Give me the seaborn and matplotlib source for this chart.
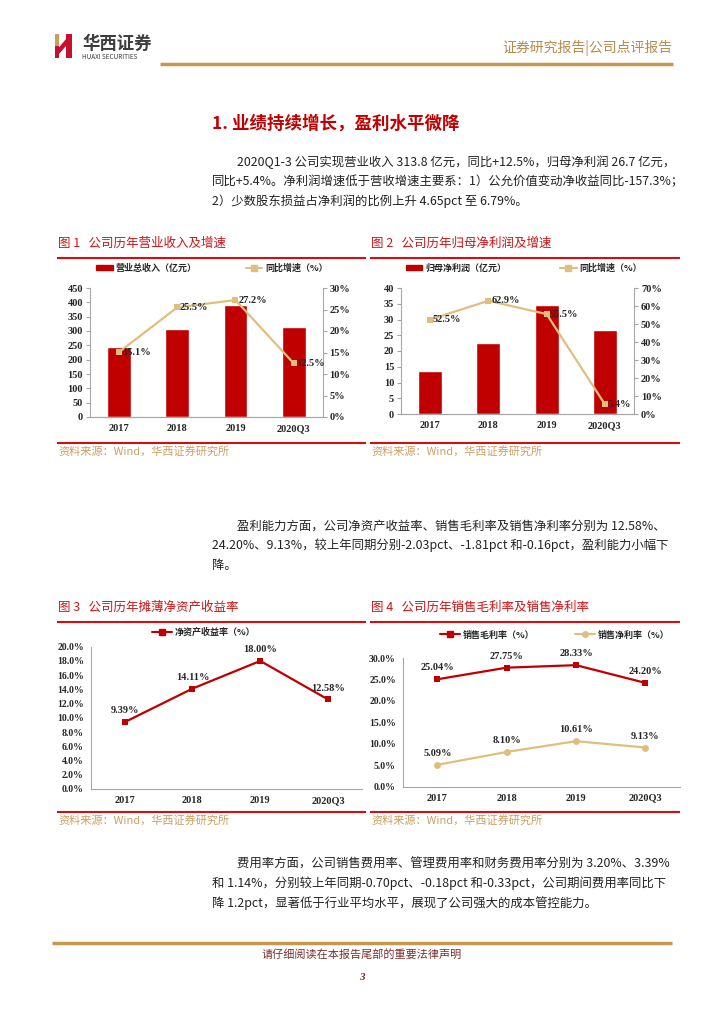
import numpy as np
import matplotlib
matplotlib.use("Agg")
import matplotlib.pyplot as plt
import seaborn as sns
from matplotlib.patches import Patch, Polygon, Rectangle
from matplotlib.lines import Line2D

# ---- data ----
years = ["2017", "2018", "2019", "2020Q3"]
revenue = [244.0, 307.0, 391.0, 313.8]          # 营业总收入（亿元）
revenue_yoy = [15.1, 25.5, 27.2, 12.5]          # 同比增速（%）
net_profit = [13.8, 22.4, 34.7, 26.7]           # 归母净利润（亿元）
net_profit_yoy = [52.5, 62.9, 55.5, 5.4]        # 同比增速（%）
roe = [9.39, 14.11, 18.00, 12.58]               # 净资产收益率（%）
gross_margin = [25.04, 27.75, 28.33, 24.20]     # 销售毛利率（%）
net_margin = [5.09, 8.10, 10.61, 9.13]          # 销售净利率（%）

para1 = ["2020Q1-3 公司实现营业收入 313.8 亿元，同比+12.5%，归母净利润 26.7 亿元，",
         "同比+5.4%。净利润增速低于营收增速主要系：1）公允价值变动净收益同比-157.3%；",
         "2）少数股东损益占净利润的比例上升 4.65pct 至 6.79%。"]
para2 = ["盈利能力方面，公司净资产收益率、销售毛利率及销售净利率分别为 12.58%、",
         "24.20%、9.13%，较上年同期分别-2.03pct、-1.81pct 和-0.16pct，盈利能力小幅下",
         "降。"]
para3 = ["费用率方面，公司销售费用率、管理费用率和财务费用率分别为 3.20%、3.39%",
         "和 1.14%，分别较上年同期-0.70pct、-0.18pct 和-0.33pct，公司期间费用率同比下",
         "降 1.2pct，显著低于行业平均水平，展现了公司强大的成本管控能力。"]

W, H = 724, 1024
RED = "#C00000"
TITLE_RED = "#CC1414"
GOLD = "#E0BF7E"
BROWN = "#C8964F"
SRC = "#C9A064"
GRAY = "#A6A6A6"

sns.set_style("white")
plt.rcParams["font.family"] = ["Noto Sans CJK SC", "DejaVu Sans"]

NUM = dict(family="Liberation Serif", weight="bold")
LEG = {"family": "Noto Sans CJK SC", "weight": "bold", "size": 6.5}

fig = plt.figure(figsize=(W / 100, H / 100), dpi=100)

ov = fig.add_axes([0, 0, 1, 1], zorder=-1)
ov.set_xlim(0, W)
ov.set_ylim(H, 0)
ov.axis("off")


def px_axes(x0, y0, x1, y1):
    ax = fig.add_axes([x0 / W, 1 - y1 / H, (x1 - x0) / W, (y1 - y0) / H])
    ax.set_facecolor("none")
    return ax


def hline(x0, x1, y, color, lw):
    ov.plot([x0, x1], [y, y], color=color, lw=lw, solid_capstyle="butt")


def base_style(ax, left=True, right=False):
    for s in ["top", "left", "right", "bottom"]:
        ax.spines[s].set_visible(False)
    ax.spines["bottom"].set_visible(True)
    ax.spines["bottom"].set_color(GRAY)
    if left:
        ax.spines["left"].set_visible(True)
        ax.spines["left"].set_color(GRAY)
    if right:
        ax.spines["right"].set_visible(True)
        ax.spines["right"].set_color(GRAY)
    ax.tick_params(axis="y", length=3, color=GRAY, pad=2)
    ax.tick_params(axis="x", length=0, pad=5)
    ax.set_xlabel("")
    ax.set_ylabel("")


def panel_frame(x0, x1, ytop, ybot, title):
    ov.text(x0 + 1, ytop - 15, title, color=TITLE_RED, fontsize=9, va="center")
    hline(x0, x1, ytop, "#D01010", 1.5)
    hline(x0, x1, ybot, "#D01010", 1.5)
    ov.text(x0 + 1, ybot + 8, "资料来源：Wind，华西证券研究所", color=SRC, fontsize=8, va="center")


# ---- header ----
ov.add_patch(Rectangle((55, 34), 3.5, 12, color="#C9A05A", lw=0))
ov.add_patch(Rectangle((55, 46), 4, 11.5, color="#C8102E", lw=0))
ov.add_patch(Polygon([(58.5, 48), (66, 39), (66, 46), (59, 54)], color="#C8102E", lw=0))
ov.add_patch(Rectangle((66, 34), 6, 23.5, color="#C8102E", lw=0))
ov.text(82, 44, "华西证券", fontsize=12.5, weight="bold", color="#3C3C3C", va="center")
ov.text(82, 57, "HUAXI SECURITIES", fontsize=4.6, color="#3C3C3C", va="center")
ov.text(672, 48, "证券研究报告|公司点评报告", fontsize=10, color="#B98A4C", va="center", ha="right")
hline(160, 673, 64, BROWN, 2.5)

ov.text(212, 124, "1. 业绩持续增长，盈利水平微降", fontsize=12.6, weight="bold", color=RED, va="center")


def paragraph(lines, y0):
    for i, line in enumerate(lines):
        x = 237 if i == 0 else 212
        ov.text(x, y0 + i * 19.5, line, fontsize=8.9, color="#222222", va="center")


paragraph(para1, 162)
paragraph(para2, 526)
paragraph(para3, 864)

# ---- footer ----
hline(52, 672, 943, BROWN, 2.5)
ov.text(362, 954, "请仔细阅读在本报告尾部的重要法律声明", fontsize=8, color="#7A2E2E", ha="center", va="center")
ov.text(362, 978, "3", fontsize=8, color="#7A2E2E", ha="center", va="center",
        family="Liberation Serif", weight="bold", style="italic")

# ---- chart 1: revenue ----
panel_frame(57, 366, 258, 443, "图 1   公司历年营业收入及增速")
ax1 = px_axes(90, 288, 322.7, 417)
sns.barplot(x=years, y=revenue, color=RED, saturation=1, width=0.41, ax=ax1)
ax1.set_ylim(0, 450)
ax1.set_yticks(range(0, 451, 50), [str(v) for v in range(0, 451, 50)], fontsize=7.5, **NUM)
ax1.set_xticks(range(len(years)), years, fontsize=7.5, **NUM)
base_style(ax1)
ax1b = ax1.twinx()
sns.lineplot(x=np.arange(len(years)), y=revenue_yoy, ax=ax1b, color=GOLD, marker="s",
             markersize=5, markeredgewidth=0, linewidth=1.6)
ax1b.set_ylim(0, 30)
ax1b.set_yticks(range(0, 31, 5), [f"{v}%" for v in range(0, 31, 5)], fontsize=7.5, **NUM)
base_style(ax1b, left=False, right=True)
ax1b.set_xlim(-0.5, 3.5)
for i, v in enumerate(revenue_yoy):
    ax1b.annotate(f"{v}%", (i, v), xytext=(2, 0), textcoords="offset points",
                  ha="left", va="center", fontsize=7.5, **NUM)
ax1.legend([Patch(color=RED), Line2D([], [], color=GOLD, marker="s", markersize=4, lw=1.5)],
           ["营业总收入（亿元）", "同比增速（%）"], loc="center",
           bbox_to_anchor=(212 / W, 1 - 268 / H), bbox_transform=fig.transFigure,
           ncol=2, frameon=False, prop=LEG, handlelength=1.8, handleheight=0.6,
           columnspacing=5.5, handletextpad=0.3)

# ---- chart 2: net profit ----
panel_frame(370, 680, 258, 443, "图 2   公司历年归母净利润及增速")
ax2 = px_axes(401, 288, 634, 414)
sns.barplot(x=years, y=net_profit, color=RED, saturation=1, width=0.41, ax=ax2)
ax2.set_ylim(0, 40)
ax2.set_yticks(range(0, 41, 5), [str(v) for v in range(0, 41, 5)], fontsize=7.5, **NUM)
ax2.set_xticks(range(len(years)), years, fontsize=7.5, **NUM)
base_style(ax2)
ax2b = ax2.twinx()
sns.lineplot(x=np.arange(len(years)), y=net_profit_yoy, ax=ax2b, color=GOLD, marker="s",
             markersize=5, markeredgewidth=0, linewidth=1.6)
ax2b.set_ylim(0, 70)
ax2b.set_yticks(range(0, 71, 10), [f"{v}%" for v in range(0, 71, 10)], fontsize=7.5, **NUM)
base_style(ax2b, left=False, right=True)
ax2b.set_xlim(-0.5, 3.5)
for i, v in enumerate(net_profit_yoy):
    ax2b.annotate(f"{v}%", (i, v), xytext=(2, 0), textcoords="offset points",
                  ha="left", va="center", fontsize=7.5, **NUM)
ax2.legend([Patch(color=RED), Line2D([], [], color=GOLD, marker="s", markersize=4, lw=1.5)],
           ["归母净利润（亿元）", "同比增速（%）"], loc="center",
           bbox_to_anchor=(524 / W, 1 - 268 / H), bbox_transform=fig.transFigure,
           ncol=2, frameon=False, prop=LEG, handlelength=1.8, handleheight=0.6,
           columnspacing=6, handletextpad=0.3)

# ---- chart 3: ROE ----
panel_frame(57, 366, 622, 812, "图 3   公司历年摊薄净资产收益率")
ax3 = px_axes(90.7, 646.7, 362, 789)
sns.lineplot(x=years, y=roe, sort=False, ax=ax3, color=RED, marker="s", markersize=5,
             markeredgewidth=0, linewidth=1.6)
ax3.set_ylim(0, 20)
ax3.set_yticks(np.arange(0, 20.1, 2), [f"{v:.1f}%" for v in np.arange(0, 20.1, 2)], fontsize=7, **NUM)
ax3.set_xticks(range(len(years)), years, fontsize=7.5, **NUM)
ax3.set_xlim(-0.5, 3.5)
base_style(ax3)
ax3.set_xticks(np.arange(-0.5, 3.6, 1), minor=True)
ax3.tick_params(axis="x", which="minor", length=3, color=GRAY)
for i, v in enumerate(roe):
    ax3.annotate(f"{v:.2f}%", (i, v), xytext=(0, 5), textcoords="offset points",
                 ha="center", va="bottom", fontsize=7.5, **NUM)
ax3.legend([Line2D([], [], color=RED, marker="s", markersize=4, lw=1.5)],
           ["净资产收益率（%）"], loc="center",
           bbox_to_anchor=(204 / W, 1 - 632 / H), bbox_transform=fig.transFigure,
           frameon=False, prop=LEG, handlelength=2.2, handletextpad=0.3)

# ---- chart 4: margins ----
panel_frame(370, 680, 622, 812, "图 4   公司历年销售毛利率及销售净利率")
ax4 = px_axes(402.7, 658, 680, 786.7)
sns.lineplot(x=years, y=gross_margin, sort=False, ax=ax4, color=RED, marker="s", markersize=5,
             markeredgewidth=0, linewidth=1.6)
sns.lineplot(x=years, y=net_margin, sort=False, ax=ax4, color=GOLD, marker="o", markersize=5,
             markeredgewidth=0, linewidth=1.6)
ax4.set_ylim(0, 30)
ax4.set_yticks(np.arange(0, 30.1, 5), [f"{v:.1f}%" for v in np.arange(0, 30.1, 5)], fontsize=7, **NUM)
ax4.set_xticks(range(len(years)), years, fontsize=7.5, **NUM)
ax4.set_xlim(-0.5, 3.5)
base_style(ax4)
ax4.set_xticks(np.arange(-0.5, 3.6, 1), minor=True)
ax4.tick_params(axis="x", which="minor", length=3, color=GRAY)
for series in (gross_margin, net_margin):
    for i, v in enumerate(series):
        ax4.annotate(f"{v:.2f}%", (i, v), xytext=(0, 5), textcoords="offset points",
                     ha="center", va="bottom", fontsize=7.5, **NUM)
ax4.legend([Line2D([], [], color=RED, marker="s", markersize=4, lw=1.5),
            Line2D([], [], color=GOLD, marker="o", markersize=4, lw=1.5)],
           ["销售毛利率（%）", "销售净利率（%）"], loc="center",
           bbox_to_anchor=(555 / W, 1 - 635 / H), bbox_transform=fig.transFigure,
           ncol=2, frameon=False, prop=LEG, handlelength=2.2, handletextpad=0.3,
           columnspacing=4.5)

fig.savefig("out.png", dpi=100)
